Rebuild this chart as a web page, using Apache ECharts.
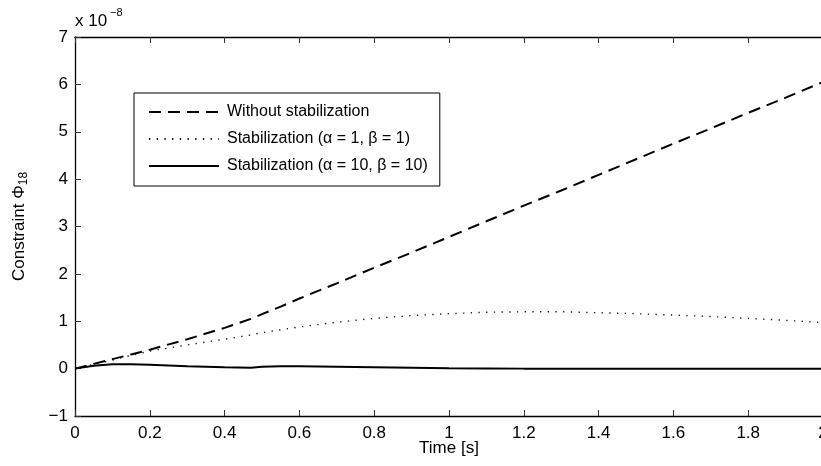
<!DOCTYPE html>
<html>
<head>
<meta charset="utf-8">
<script src="https://cdn.jsdelivr.net/npm/echarts@6/dist/echarts.min.js"></script>
<style>
  html, body { margin: 0; padding: 0; background: #fff; }
  #chart { width: 821px; height: 466px; }
</style>
</head>
<body>
<div id="chart"></div>
<script>
var chart = echarts.init(document.getElementById('chart'));

// time [s]
var times = [0, 0.05, 0.1, 0.15, 0.2, 0.3, 0.4, 0.47, 0.5, 0.55, 0.6, 0.7, 0.8, 0.9,
             1.0, 1.1, 1.2, 1.3, 1.4, 1.5, 1.6, 1.7, 1.8, 1.9, 2.0];
// constraint values, units of 1e-8
var withoutStab = [0, 0.1, 0.2, 0.3, 0.4, 0.62, 0.86, 1.05, 1.15, 1.31, 1.48, 1.8, 2.13, 2.45,
                   2.78, 3.11, 3.44, 3.76, 4.09, 4.42, 4.75, 5.07, 5.4, 5.72, 6.05];
var stab1 = [0, 0.09, 0.18, 0.28, 0.37, 0.5, 0.62, 0.71, 0.76, 0.82, 0.88, 0.98, 1.06, 1.12,
             1.16, 1.19, 1.2, 1.2, 1.18, 1.16, 1.13, 1.1, 1.06, 1.02, 0.97];
var stab10 = [0, 0.06, 0.09, 0.09, 0.08, 0.05, 0.03, 0.02, 0.04, 0.05, 0.05, 0.04, 0.03, 0.02,
              0.01, 0.005, 0, 0, 0, 0, 0, 0, 0, 0, 0];

var names = ['Without stabilization', 'Stabilization (α = 1, β = 1)', 'Stabilization (α = 10, β = 10)'];

function pairs(ys) {
    var list = [];
    for (var i = 0; i < times.length; i++) {
        list.push([times[i], ys[i]]);
    }
    return list;
}

var font = 'Liberation Sans, Arial, Helvetica, sans-serif';

var option = {
    animation: false,
    backgroundColor: '#fff',
    textStyle: { fontFamily: font },
    grid: { left: 75, top: 37, width: 748, height: 379, outerBoundsMode: 'none', containLabel: false },
    legend: {
        orient: 'vertical',
        left: 134,
        top: 93,
        padding: [11, 12, 12, 14],
        itemGap: 11,
        itemWidth: 70,
        itemHeight: 16,
        borderColor: '#000',
        borderWidth: 1,
        backgroundColor: '#fff',
        itemStyle: { opacity: 0 },
        textStyle: { fontSize: 16, color: '#000', fontFamily: font, padding: [0, 0, 0, 3] },
        data: names
    },
    xAxis: [{
        type: 'value',
        min: 0, max: 2, interval: 0.2,
        name: 'Time [s]',
        nameLocation: 'middle',
        nameGap: 24,
        nameMoveOverlap: false,
        nameTextStyle: { fontSize: 17, color: '#000' },
        axisLine: { show: true, onZero: false, lineStyle: { color: '#000', width: 1.3 } },
        axisTick: { inside: true, length: 6, lineStyle: { color: '#333' } },
        axisLabel: { fontSize: 17, color: '#000', margin: 9 },
        splitLine: { show: false }
    }, {
        type: 'value',
        position: 'top',
        min: 0, max: 2, interval: 0.2,
        axisLine: { show: true, onZero: false, lineStyle: { color: '#000', width: 1.3 } },
        axisTick: { inside: true, length: 6, lineStyle: { color: '#333' } },
        axisLabel: { show: false },
        splitLine: { show: false }
    }],
    yAxis: {
        type: 'value',
        min: -1, max: 7, interval: 1,
        name: 'Constraint Φ{sub|18}',
        nameLocation: 'middle',
        nameGap: 45,
        nameMoveOverlap: false,
        nameTextStyle: {
            fontSize: 17, color: '#000',
            rich: { sub: { fontSize: 12, color: '#000', padding: [10, 0, 0, 0] } }
        },
        axisLine: { show: true, onZero: false, lineStyle: { color: '#000', width: 1.3 } },
        axisTick: { inside: true, length: 6, lineStyle: { color: '#333' } },
        axisLabel: {
            fontSize: 17, color: '#000', margin: 7,
            formatter: function (v) { return String(v).replace('-', '\u2212'); }
        },
        splitLine: { show: false }
    },
    graphic: [
        { type: 'text', left: 75, top: 13, style: { text: 'x 10', fontSize: 17, fill: '#000', fontFamily: font } },
        { type: 'text', left: 110, top: 7, style: { text: '\u22128', fontSize: 11, fill: '#000', fontFamily: font } }
    ],
    series: [{
        name: names[0],
        type: 'line',
        symbol: 'none',
        data: pairs(withoutStab),
        lineStyle: { color: '#000', width: 2, type: [12, 7] },
        itemStyle: { color: '#000' }
    }, {
        name: names[1],
        type: 'line',
        symbol: 'none',
        data: pairs(stab1),
        lineStyle: { color: '#111', width: 1.4, type: [1.3, 6.4] },
        itemStyle: { color: '#111' }
    }, {
        name: names[2],
        type: 'line',
        symbol: 'none',
        data: pairs(stab10),
        lineStyle: { color: '#000', width: 2 },
        itemStyle: { color: '#000' }
    }]
};

chart.setOption(option);
</script>
</body>
</html>
